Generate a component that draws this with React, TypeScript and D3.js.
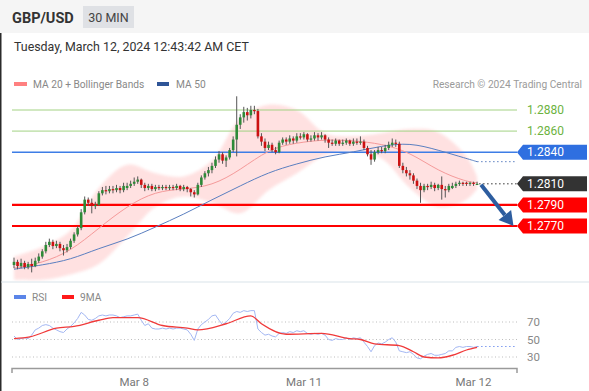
import React from 'react';
import * as d3 from 'd3';

const W = 589;
const H = 391;

// 30-min candles, Mar 7 ~07:00 CET -> Mar 12 ~00:30 CET
const opens = [
  1.2733, 1.2736, 1.2732, 1.2735, 1.2731, 1.2734, 1.2732, 1.2737, 1.2741, 1.2746,
  1.2752, 1.2755, 1.2751, 1.2753, 1.2749, 1.2747, 1.2750, 1.2756, 1.2762, 1.2768,
  1.2783, 1.2795, 1.2792, 1.2789, 1.2790, 1.2801, 1.2804, 1.2803, 1.2805, 1.2804,
  1.2806, 1.2804, 1.2806, 1.2808, 1.2810, 1.2812, 1.2814, 1.2809, 1.2806, 1.2808,
  1.2805, 1.2807, 1.2806, 1.2807, 1.2806, 1.2807, 1.2806, 1.2808, 1.2805, 1.2807,
  1.2805, 1.2802, 1.2800, 1.2809, 1.2816, 1.2820, 1.2823, 1.2827, 1.2833, 1.2838,
  1.2832, 1.2835, 1.2842, 1.2852, 1.2866, 1.2873, 1.2878, 1.2875, 1.2880, 1.2879,
  1.2855, 1.2850, 1.2844, 1.2847, 1.2842, 1.2840, 1.2849, 1.2852, 1.2850, 1.2853,
  1.2851, 1.2855, 1.2854, 1.2857, 1.2852, 1.2853, 1.2856, 1.2854, 1.2856, 1.2852,
  1.2849, 1.2848, 1.2851, 1.2848, 1.2849, 1.2851, 1.2848, 1.2850, 1.2849, 1.2850,
  1.2844, 1.2838, 1.2833, 1.2840, 1.2842, 1.2841, 1.2844, 1.2847, 1.2849, 1.2848,
  1.2827, 1.2823, 1.2820, 1.2818, 1.2813, 1.2808, 1.2804, 1.2808, 1.2807, 1.2809,
  1.2806, 1.2809, 1.2805, 1.2804, 1.2806, 1.2808, 1.2810, 1.2811, 1.2811, 1.2810,
  1.2811, 1.2810,
];
const highs = [
  1.2740, 1.2738, 1.2739, 1.2737, 1.2736, 1.2739, 1.2740, 1.2744, 1.2748, 1.2755,
  1.2758, 1.2757, 1.2756, 1.2755, 1.2752, 1.2753, 1.2758, 1.2764, 1.2770, 1.2786,
  1.2798, 1.2797, 1.2796, 1.2793, 1.2803, 1.2807, 1.2808, 1.2808, 1.2808, 1.2809,
  1.2808, 1.2811, 1.2811, 1.2813, 1.2816, 1.2817, 1.2815, 1.2811, 1.2810, 1.2810,
  1.2809, 1.2809, 1.2809, 1.2809, 1.2809, 1.2809, 1.2810, 1.2809, 1.2809, 1.2808,
  1.2806, 1.2804, 1.2811, 1.2818, 1.2822, 1.2826, 1.2830, 1.2836, 1.2841, 1.2840,
  1.2837, 1.2844, 1.2855, 1.2893, 1.2876, 1.2883, 1.2882, 1.2884, 1.2884, 1.2881,
  1.2858, 1.2853, 1.2850, 1.2849, 1.2845, 1.2851, 1.2854, 1.2854, 1.2856, 1.2855,
  1.2858, 1.2858, 1.2859, 1.2858, 1.2856, 1.2859, 1.2858, 1.2859, 1.2857, 1.2854,
  1.2852, 1.2853, 1.2852, 1.2852, 1.2853, 1.2852, 1.2853, 1.2853, 1.2855, 1.2852,
  1.2846, 1.2842, 1.2842, 1.2845, 1.2845, 1.2847, 1.2850, 1.2853, 1.2852, 1.2850,
  1.2830, 1.2826, 1.2823, 1.2820, 1.2815, 1.2811, 1.2810, 1.2810, 1.2812, 1.2811,
  1.2810, 1.2817, 1.2808, 1.2810, 1.2811, 1.2812, 1.2813, 1.2812, 1.2812, 1.2812,
  1.2812, 1.2812,
];
const lows = [
  1.2730, 1.2729, 1.2730, 1.2729, 1.2729, 1.2726, 1.2731, 1.2735, 1.2739, 1.2744,
  1.2750, 1.2748, 1.2749, 1.2746, 1.2742, 1.2745, 1.2748, 1.2754, 1.2760, 1.2766,
  1.2781, 1.2789, 1.2782, 1.2786, 1.2789, 1.2799, 1.2800, 1.2801, 1.2801, 1.2802,
  1.2801, 1.2802, 1.2804, 1.2806, 1.2808, 1.2810, 1.2806, 1.2803, 1.2804, 1.2803,
  1.2803, 1.2804, 1.2804, 1.2804, 1.2804, 1.2804, 1.2804, 1.2803, 1.2803, 1.2802,
  1.2798, 1.2797, 1.2799, 1.2807, 1.2814, 1.2817, 1.2820, 1.2825, 1.2830, 1.2829,
  1.2826, 1.2833, 1.2840, 1.2836, 1.2862, 1.2868, 1.2870, 1.2872, 1.2876, 1.2853,
  1.2846, 1.2841, 1.2842, 1.2840, 1.2838, 1.2839, 1.2847, 1.2847, 1.2848, 1.2848,
  1.2849, 1.2852, 1.2852, 1.2850, 1.2850, 1.2851, 1.2851, 1.2852, 1.2849, 1.2844,
  1.2846, 1.2846, 1.2846, 1.2846, 1.2847, 1.2846, 1.2846, 1.2847, 1.2847, 1.2842,
  1.2836, 1.2828, 1.2831, 1.2838, 1.2839, 1.2839, 1.2842, 1.2845, 1.2845, 1.2825,
  1.2820, 1.2817, 1.2814, 1.2810, 1.2805, 1.2792, 1.2802, 1.2804, 1.2805, 1.2803,
  1.2804, 1.2795, 1.2797, 1.2802, 1.2805, 1.2806, 1.2808, 1.2808, 1.2808, 1.2808,
  1.2808, 1.2809,
];
const closes = [
  1.2736, 1.2732, 1.2735, 1.2731, 1.2734, 1.2732, 1.2737, 1.2741, 1.2746, 1.2752,
  1.2755, 1.2751, 1.2753, 1.2749, 1.2747, 1.2750, 1.2756, 1.2762, 1.2768, 1.2783,
  1.2795, 1.2792, 1.2789, 1.2790, 1.2801, 1.2804, 1.2803, 1.2805, 1.2804, 1.2806,
  1.2804, 1.2808, 1.2808, 1.2810, 1.2812, 1.2814, 1.2809, 1.2806, 1.2808, 1.2805,
  1.2807, 1.2806, 1.2807, 1.2806, 1.2807, 1.2806, 1.2808, 1.2805, 1.2807, 1.2805,
  1.2802, 1.2800, 1.2809, 1.2816, 1.2820, 1.2823, 1.2827, 1.2833, 1.2838, 1.2832,
  1.2835, 1.2842, 1.2852, 1.2866, 1.2873, 1.2878, 1.2875, 1.2880, 1.2879, 1.2855,
  1.2850, 1.2844, 1.2847, 1.2842, 1.2840, 1.2849, 1.2852, 1.2850, 1.2853, 1.2851,
  1.2855, 1.2854, 1.2857, 1.2852, 1.2853, 1.2856, 1.2854, 1.2856, 1.2852, 1.2849,
  1.2848, 1.2851, 1.2848, 1.2849, 1.2851, 1.2848, 1.2850, 1.2849, 1.2850, 1.2844,
  1.2838, 1.2833, 1.2840, 1.2842, 1.2841, 1.2844, 1.2847, 1.2849, 1.2848, 1.2827,
  1.2823, 1.2820, 1.2818, 1.2813, 1.2808, 1.2804, 1.2808, 1.2807, 1.2809, 1.2806,
  1.2809, 1.2805, 1.2804, 1.2808, 1.2808, 1.2810, 1.2811, 1.2810, 1.2810, 1.2811,
  1.2810, 1.2810,
];

// moving averages / bands sampled at candle indices
const maIdx = [0, 8, 16, 24, 32, 40, 48, 56, 64, 72, 80, 88, 96, 104, 112, 120, 128, 131];
const ma20 = [1.2730, 1.2735, 1.2746, 1.2768, 1.2789, 1.2803, 1.2805, 1.2808, 1.2823, 1.2843, 1.2849, 1.2852, 1.2851, 1.2848, 1.2840, 1.2822, 1.2812, 1.2811];
const ma50 = [1.2729, 1.2733, 1.2738, 1.2749, 1.2757, 1.2769, 1.2781, 1.2795, 1.2808, 1.2821, 1.2829, 1.2836, 1.2840, 1.2846, 1.2849, 1.2842, 1.2834, 1.2831];
const bbUpper = [1.2741, 1.2750, 1.2766, 1.2806, 1.2828, 1.2820, 1.2817, 1.2832, 1.2872, 1.2885, 1.2880, 1.2858, 1.2855, 1.2858, 1.2862, 1.2859, 1.2836, 1.2817];
const bbLower = [1.2719, 1.2719, 1.2724, 1.2734, 1.2760, 1.2788, 1.2798, 1.2792, 1.2782, 1.2804, 1.2820, 1.2837, 1.2841, 1.2834, 1.2806, 1.2788, 1.2795, 1.2805];

// RSI per candle
const rsi = [
  54, 50, 51, 52, 51, 55, 61, 63, 66, 67,
  66, 63, 61, 59, 58, 62, 65, 69, 74, 81,
  78, 73, 72, 74, 77, 78, 77, 78, 78, 77,
  75, 76, 77, 77, 78, 79, 72, 66, 68, 63,
  62, 62, 63, 62, 63, 62, 63, 63, 62, 61,
  56, 49, 62, 67, 70, 73, 77, 78, 72, 67,
  70, 74, 80, 82, 81, 83, 82, 83, 83, 62,
  58, 55, 56, 54, 53, 57, 58, 57, 59, 58,
  60, 59, 60, 57, 56, 57, 56, 57, 55, 50,
  49, 51, 50, 50, 52, 50, 52, 51, 52, 47,
  42, 36, 43, 46, 45, 47, 50, 52, 47, 37,
  36, 35, 36, 33, 29, 28, 31, 33, 34, 32,
  32, 33, 34, 37, 37, 41, 42, 41, 42, 42,
  41, 42,
];
const rsiMaIdx = [0, 4.5, 12, 17, 24, 28, 35, 42, 49, 52, 60, 67, 70, 77, 87, 95, 98, 102, 109, 113, 116, 120, 124, 128, 131];
const rsiMa = [51, 53, 63, 65, 72, 75, 75, 66, 63, 61, 68, 77, 68, 56, 57, 51, 50, 45, 43, 36, 30, 29, 32, 38, 41];

const levelValues = [1.2880, 1.2860, 1.2840, 1.2790, 1.2770];
const levelKinds = ['green', 'green', 'blue', 'red', 'red'];
const lastPrice = 1.2810;
const targetPrice = 1.2770;

const tickIdx = [34, 82, 130];
const tickLabels = ['Mar 8', 'Mar 11', 'Mar 12'];
const rsiTicks = [70, 50, 30];

const FONT = 'Roboto, "Liberation Sans", Arial, sans-serif';

export default function App() {
  const n = closes.length;
  const x = d3.scaleLinear().domain([0, n - 1]).range([14, 14 + (n - 1) * 3.535]);
  const y = d3.scaleLinear().domain([1.2770, 1.2880]).range([226, 110]);
  const yR = d3.scaleLinear().domain([30, 70]).range([357, 322]);
  const lineL = 12;
  const lineR = 517;

  const band = d3
    .area<number>()
    .x((i) => x(maIdx[i]))
    .y0((i) => y(bbLower[i]))
    .y1((i) => y(bbUpper[i]))
    .curve(d3.curveCatmullRom.alpha(0.5))(maIdx.map((_, i) => i)) as string;

  const maLine = (arr: number[]) =>
    d3
      .line<number>()
      .x((i) => x(maIdx[i]))
      .y((i) => y(arr[i]))
      .curve(d3.curveBasis)(maIdx.map((_, i) => i)) as string;

  const rsiLine = d3
    .line<number>()
    .x((_, i) => x(i))
    .y((v) => yR(v))(rsi) as string;
  const rsiMaLine = d3
    .line<number>()
    .x((i) => x(rsiMaIdx[i]))
    .y((i) => yR(rsiMa[i]))
    .curve(d3.curveMonotoneX)(rsiMaIdx.map((_, i) => i)) as string;

  const colors: Record<string, string> = { green: '#a3d283', blue: '#3d7de6', red: '#ff0000' };
  const labelFill: Record<string, string> = { blue: '#2f6fe0', red: '#ff0000', black: '#333333' };

  const tag = (yy: number) =>
    `M${lineR},${yy} L${lineR + 6},${yy - 7.5} L587,${yy - 7.5} L587,${yy + 7.5} L${lineR + 6},${yy + 7.5} Z`;

  const lastX = x(n - 1);
  const ma50Last = ma50[ma50.length - 1];
  const rsiLast = rsi[rsi.length - 1];

  // forecast arrow
  const ax0 = lastX + 4;
  const ay0 = y(lastPrice) + 1;
  const ax1 = x(n - 1 + 10.3);
  const ay1 = y(targetPrice);
  const ang = Math.atan2(ay1 - ay0, ax1 - ax0);
  const headL = 14;
  const headW = 8;
  const bx = ax1 - headL * Math.cos(ang);
  const by = ay1 - headL * Math.sin(ang);
  const px = -Math.sin(ang);
  const py = Math.cos(ang);

  return (
    <svg width={W} height={H} style={{ position: 'absolute', left: 0, top: 0, fontFamily: FONT }}>
      <defs>
        <filter id="soft" x="-5%" y="-10%" width="110%" height="120%">
          <feGaussianBlur stdDeviation="1.8" />
        </filter>
      </defs>
      <rect x={0} y={0} width={W} height={H} fill="#ffffff" />
      <rect x={0} y={0} width={W} height={33} fill="#f5f5f5" />
      <line x1={0.75} y1={33} x2={0.75} y2={H} stroke="#2b2b2b" strokeWidth={1.5} />

      <text x={12} y={23} fontSize={14.5} fontWeight="bold" fill="#333">GBP/USD</text>
      <rect x={83} y={6} width={51} height={22} fill="#dfe1e5" />
      <text x={108.5} y={22} fontSize={12.5} fill="#444" textAnchor="middle">30 MIN</text>

      <text x={14} y={51} fontSize={12.4} fill="#333">Tuesday, March 12, 2024 12:43:42 AM CET</text>

      <rect x={14} y={82} width={13} height={4} fill="#ff8080" />
      <text x={33} y={87.5} fontSize={10.2} fill="#888">MA 20 + Bollinger Bands</text>
      <rect x={157} y={82} width={12} height={4} fill="#2f5597" />
      <text x={176} y={87.5} fontSize={10.2} fill="#888">MA 50</text>
      <text x={582} y={87.5} fontSize={10.2} fill="#9a9a9a" textAnchor="end">Research © 2024 Trading Central</text>

      {/* bollinger band */}
      <path d={band} fill="#ffdcdc" opacity={0.85} filter="url(#soft)" />

      {/* horizontal levels */}
      {levelValues.map((v, i) => (
        <line
          key={i}
          x1={lineL}
          x2={lineR}
          y1={y(v)}
          y2={y(v)}
          stroke={colors[levelKinds[i]]}
          strokeWidth={levelKinds[i] === 'green' ? 1 : levelKinds[i] === 'blue' ? 1.5 : 2.2}
        />
      ))}

      {/* moving averages */}
      <path d={maLine(ma20)} fill="none" stroke="#f59a9a" strokeWidth={1} />
      <path d={maLine(ma50)} fill="none" stroke="#5b7fc0" strokeWidth={1} />
      <line x1={lastX} x2={lineR} y1={y(ma50Last)} y2={y(ma50Last)} stroke="#5b7fc0" strokeWidth={1} strokeDasharray="1.5 2.5" />
      <line x1={lastX + 2} x2={lineR} y1={y(lastPrice)} y2={y(lastPrice)} stroke="#333" strokeWidth={1} strokeDasharray="1.5 2.5" />

      {/* candles */}
      {closes.map((c, i) => {
        const o = opens[i];
        const up = c >= o;
        const cx = x(i);
        const top = y(Math.max(o, c));
        const bot = y(Math.min(o, c));
        return (
          <g key={i}>
            <line x1={cx} x2={cx} y1={y(highs[i])} y2={y(lows[i])} stroke="#555" strokeWidth={1} />
            <rect
              x={cx - 1.3}
              y={top}
              width={2.6}
              height={Math.max(1.2, bot - top)}
              fill={up ? '#2e8a38' : '#cc1111'}
            />
          </g>
        );
      })}

      {/* arrow */}
      <line x1={ax0} y1={ay0} x2={bx} y2={by} stroke="#2d5d9f" strokeWidth={4} />
      <path
        d={`M${ax1},${ay1} L${bx + px * headW},${by + py * headW} L${bx - px * headW},${by - py * headW} Z`}
        fill="#2d5d9f"
      />

      {/* right labels */}
      {levelValues.map((v, i) => {
        const yy = y(v);
        const k = levelKinds[i];
        if (k === 'green') {
          return (
            <text key={i} x={527} y={yy + 4.3} fontSize={12} fill="#6db33f">
              {v.toFixed(4)}
            </text>
          );
        }
        return (
          <g key={i}>
            <path d={tag(yy)} fill={labelFill[k]} />
            <text x={527} y={yy + 4.3} fontSize={12} fill="#fff">{v.toFixed(4)}</text>
          </g>
        );
      })}
      <g>
        <path d={tag(y(lastPrice))} fill={labelFill.black} />
        <text x={527} y={y(lastPrice) + 4.3} fontSize={12} fill="#fff">{lastPrice.toFixed(4)}</text>
      </g>

      {/* separator */}
      <line x1={1.5} x2={W} y1={282} y2={282} stroke="#e6ecf1" strokeWidth={1.5} />

      {/* RSI legend */}
      <rect x={14} y={295} width={12} height={4} fill="#5b85e8" />
      <text x={32} y={300.5} fontSize={10.2} fill="#888">RSI</text>
      <rect x={62} y={295} width={12} height={4} fill="#ff1a1a" />
      <text x={80} y={300.5} fontSize={10.2} fill="#888">9MA</text>

      {rsiTicks.map((t) => (
        <g key={t}>
          <line x1={lineL} x2={lineR} y1={yR(t)} y2={yR(t)} stroke="#bdbdbd" strokeWidth={1} strokeDasharray="1 2.5" />
          <text x={527} y={yR(t) + 4} fontSize={11.5} fill="#888">{t}</text>
        </g>
      ))}
      <path d={rsiLine} fill="none" stroke="#a3b7f3" strokeWidth={1} />
      <line x1={lastX} x2={lineR} y1={yR(rsiLast)} y2={yR(rsiLast)} stroke="#7d9bf0" strokeWidth={1} strokeDasharray="1.5 2.5" />
      <path d={rsiMaLine} fill="none" stroke="#f03a3a" strokeWidth={1.3} />

      {/* x axis */}
      <path d={`M${lineL},373 L${lineL},368.5 L${lineR},368.5 L${lineR},373`} fill="none" stroke="#9a9a9a" strokeWidth={1.5} />
      {tickIdx.map((t, i) => (
        <text key={i} x={x(t)} y={386} fontSize={11.5} fill="#777" textAnchor="middle">{tickLabels[i]}</text>
      ))}
    </svg>
  );
}
